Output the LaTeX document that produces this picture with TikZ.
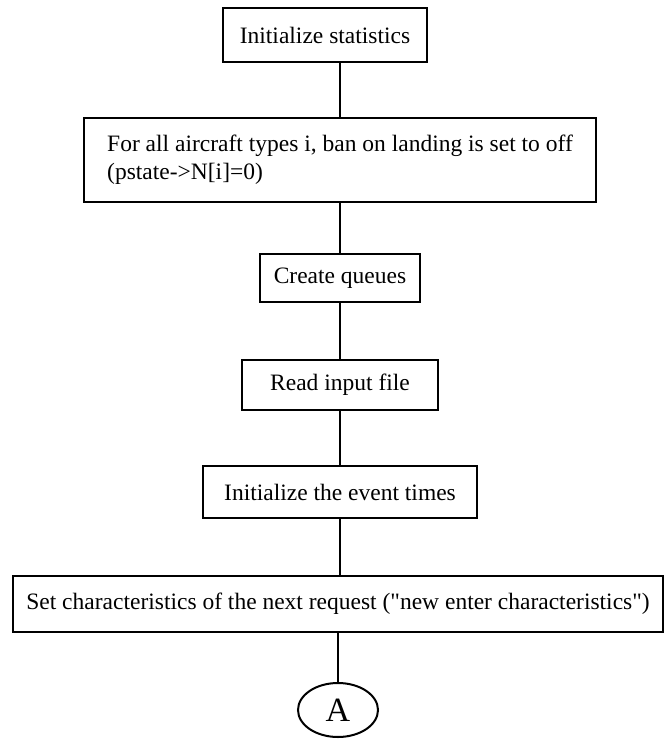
\documentclass[tikz,border=0pt]{standalone}
\usepackage{fontspec}
\setmainfont{Liberation Serif}
\usetikzlibrary{shapes.geometric}

\tikzset{
  stepbox/.style={draw,line width=1pt,inner xsep=6pt},
}

\begin{document}
\begin{tikzpicture}[x=0.5pt,y=-0.5pt,line width=1pt,font=\fontsize{11.75}{14}\selectfont]
\useasboundingbox (0,0) rectangle (666,740);
\node [stepbox,minimum width=102pt,minimum height=27pt] (init) at (325,35) {Initialize statistics};
\node [stepbox,minimum width=256pt,minimum height=42pt,align=left] (ban) at (340,160)
    {For all aircraft types i, ban on landing is set to off\\(pstate->N[i]=0)};
\node [stepbox,minimum width=80pt,minimum height=24pt] (queues) at (340,278) {Create queues};
\node [stepbox,minimum width=98pt,minimum height=25pt] (input) at (340,385) {Read input file};
\node [stepbox,minimum width=137pt,minimum height=26pt] (times) at (340,492) {Initialize the event times};
\node [stepbox,minimum width=325pt,minimum height=28pt] (request) at (338,604)
    {Set characteristics of the next request (\textquotedbl new enter characteristics\textquotedbl)};
\node [draw,ellipse,minimum width=40pt,minimum height=27pt,inner sep=0pt,
    font=\fontsize{17}{19}\selectfont] (conA) at (338,710) {A};
\draw (init.south -| ban.north) -- (ban.north);
\draw (ban) -- (queues);
\draw (queues) -- (input);
\draw (input) -- (times);
\draw (times.south) -- (times.south |- request.north);
\draw (request.south -| conA.north) -- (conA.north);
\end{tikzpicture}
\end{document}
